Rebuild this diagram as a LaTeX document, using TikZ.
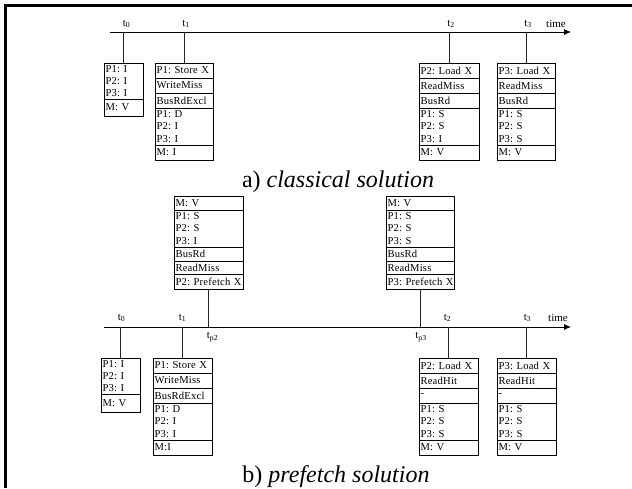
\documentclass[tikz,border=0pt]{standalone}
\usepackage{fontspec}
\setmainfont{Liberation Serif}
\usetikzlibrary{arrows.meta}
\newcommand\cellfont{\fontsize{10.6}{12.4}\selectfont\addfontfeature{LetterSpace=2}\frenchspacing}
\newcommand\tfont{\fontsize{11}{12}\selectfont}
\newcommand\capfont{\fontsize{24}{28}\selectfont}
\begin{document}
\begin{tikzpicture}[x=1pt,y=-1pt,
  cell/.style={draw, line width=0.9pt, anchor=north west, outer sep=0pt,
    inner xsep=1.5pt, inner ysep=0pt, font=\cellfont, align=left, text width=\cw},
  tline/.style={line width=0.8pt, -{Latex[length=7pt,width=6pt]}},
  conn/.style={line width=0.8pt, black!85},
  tl/.style={font=\tfont, inner sep=0pt},
  captxt/.style={font=\capfont, anchor=base, inner sep=0pt}]
\useasboundingbox (0,0) rectangle (632,488);
% frame
\draw[line width=2.5pt] (5.3,488) -- (5.3,5.3) -- (632,5.3);

% ===== a) classical solution =====
\coordinate (aS) at (110,32);
\coordinate (aE) at (571,32);
\draw[tline] (aS) -- (aE);
\node[tl] (atime) at (556,24) {time};

\def\cw{36pt}
\node[cell,minimum height=36pt] (A0s) at (104,63) {P1: I\\P2: I\\P3: I};
\node[cell,minimum height=17pt] (A0m) at (A0s.south west) {M: V};

\def\cw{55pt}
\node[cell,minimum height=15pt] (A1a) at (155,63) {\mbox{P1: Store X}};
\node[cell,minimum height=15pt] (A1b) at (A1a.south west) {WriteMiss};
\node[cell,minimum height=15pt] (A1c) at (A1b.south west) {BusRdExcl};
\node[cell,minimum height=37pt] (A1s) at (A1c.south west) {P1: D\\P2: I\\P3: I};
\node[cell,minimum height=15pt] (A1m) at (A1s.south west) {M: I};

\def\cw{57pt}
\node[cell,minimum height=15pt] (A2a) at (419,63) {\mbox{P2: Load X}};
\node[cell,minimum height=15pt] (A2b) at (A2a.south west) {ReadMiss};
\node[cell,minimum height=15pt] (A2c) at (A2b.south west) {BusRd};
\node[cell,minimum height=37pt] (A2s) at (A2c.south west) {P1: S\\P2: S\\P3: I};
\node[cell,minimum height=15pt] (A2m) at (A2s.south west) {M: V};

\def\cw{55pt}
\node[cell,minimum height=15pt] (A3a) at (497,63) {\mbox{P3: Load X}};
\node[cell,minimum height=15pt] (A3b) at (A3a.south west) {ReadMiss};
\node[cell,minimum height=15pt] (A3c) at (A3b.south west) {BusRd};
\node[cell,minimum height=37pt] (A3s) at (A3c.south west) {P1: S\\P2: S\\P3: S};
\node[cell,minimum height=15pt] (A3m) at (A3s.south west) {M: V};

\coordinate (ta0) at (A0s.north |- aS);
\coordinate (ta1) at (A1a.north |- aS);
\coordinate (ta2) at (A2a.north |- aS);
\coordinate (ta3) at (A3a.north |- aS);
\draw[conn] (ta0) -- (A0s.north);
\draw[conn] (ta1) -- (A1a.north);
\draw[conn] (ta2) -- (A2a.north);
\draw[conn] (ta3) -- (A3a.north);
\node[tl] (la0) at ([xshift=3pt,yshift=8pt]ta0) {t\textsubscript{0}};
\node[tl] (la1) at ([xshift=2pt,yshift=8pt]ta1) {t\textsubscript{1}};
\node[tl] (la2) at ([xshift=2pt,yshift=8pt]ta2) {t\textsubscript{2}};
\node[tl] (la3) at ([xshift=2pt,yshift=8pt]ta3) {t\textsubscript{3}};

\node[captxt] (capa) at (338,187) {a) \textit{classical solution}};

% ===== b) prefetch solution =====
\coordinate (bS) at (104,327);
\coordinate (bE) at (571,327);
\draw[tline] (bS) -- (bE);
\node[tl] (btime) at (558,318) {time};

\def\cw{66pt}
\node[cell,minimum height=14pt] (P2m) at (174,196) {M: V};
\node[cell,minimum height=37pt] (P2s) at (P2m.south west) {P1: S\\P2: S\\P3: I};
\node[cell,minimum height=14pt] (P2c) at (P2s.south west) {BusRd};
\node[cell,minimum height=13pt] (P2b) at (P2c.south west) {ReadMiss};
\node[cell,minimum height=15pt] (P2a) at (P2b.south west) {\mbox{P2: Prefetch X}};

\def\cw{65pt}
\node[cell,minimum height=14pt] (P3m) at (386,196) {M: V};
\node[cell,minimum height=37pt] (P3s) at (P3m.south west) {P1: S\\P2: S\\P3: S};
\node[cell,minimum height=14pt] (P3c) at (P3s.south west) {BusRd};
\node[cell,minimum height=13pt] (P3b) at (P3c.south west) {ReadMiss};
\node[cell,minimum height=15pt] (P3a) at (P3b.south west) {\mbox{P3: Prefetch X}};

\def\cw{36pt}
\node[cell,minimum height=36pt] (B0s) at (101,358) {P1: I\\P2: I\\P3: I};
\node[cell,minimum height=18pt] (B0m) at (B0s.south west) {M: V};

\def\cw{56pt}
\node[cell,minimum height=15pt] (B1a) at (153,358) {\mbox{P1: Store X}};
\node[cell,minimum height=15pt] (B1b) at (B1a.south west) {WriteMiss};
\node[cell,minimum height=15pt] (B1c) at (B1b.south west) {BusRdExcl};
\node[cell,minimum height=37pt] (B1s) at (B1c.south west) {P1: D\\P2: I\\P3: I};
\node[cell,minimum height=15pt] (B1m) at (B1s.south west) {M:I};

\def\cw{56pt}
\node[cell,minimum height=15pt] (B2a) at (419,358) {\mbox{P2: Load X}};
\node[cell,minimum height=15pt] (B2b) at (B2a.south west) {ReadHit};
\node[cell,minimum height=15pt] (B2c) at (B2b.south west) {-};
\node[cell,minimum height=37pt] (B2s) at (B2c.south west) {P1: S\\P2: S\\P3: S};
\node[cell,minimum height=15pt] (B2m) at (B2s.south west) {M: V};

\def\cw{56pt}
\node[cell,minimum height=15pt] (B3a) at (497,358) {\mbox{P3: Load X}};
\node[cell,minimum height=15pt] (B3b) at (B3a.south west) {ReadHit};
\node[cell,minimum height=15pt] (B3c) at (B3b.south west) {-};
\node[cell,minimum height=37pt] (B3s) at (B3c.south west) {P1: S\\P2: S\\P3: S};
\node[cell,minimum height=15pt] (B3m) at (B3s.south west) {M: V};

\coordinate (tb0) at (B0s.north |- bS);
\coordinate (tb1) at (B1a.north |- bS);
\coordinate (tb2) at (B2a.north |- bS);
\coordinate (tb3) at (B3a.north |- bS);
\coordinate (tp2) at (P2a.south |- bS);
\coordinate (tp3) at (P3a.south |- bS);
\draw[conn] (tb0) -- (B0s.north);
\draw[conn] (tb1) -- (B1a.north);
\draw[conn] (tb2) -- (B2a.north);
\draw[conn] (tb3) -- (B3a.north);
\draw[conn] (P2a.south) -- (tp2);
\draw[conn] (P3a.south) -- (tp3);
\node[tl] (lb0) at ([xshift=1pt,yshift=9pt]tb0) {t\textsubscript{0}};
\node[tl] (lb1) at ([xshift=0pt,yshift=9pt]tb1) {t\textsubscript{1}};
\node[tl] (lb2) at ([xshift=-1pt,yshift=9pt]tb2) {t\textsubscript{2}};
\node[tl] (lb3) at ([xshift=1pt,yshift=9pt]tb3) {t\textsubscript{3}};
\node[tl] (lp2) at ([xshift=4pt,yshift=-10pt]tp2) {t\textsubscript{p2}};
\node[tl] (lp3) at ([xshift=1pt,yshift=-10pt]tp3) {t\textsubscript{p3}};

\node[captxt] (capb) at (336,482) {b) \textit{prefetch solution}};
\end{tikzpicture}
\end{document}
